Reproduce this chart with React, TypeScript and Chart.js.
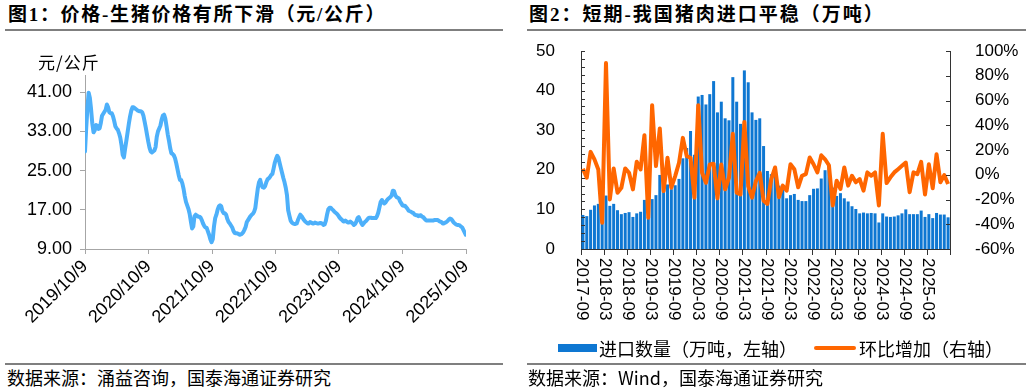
import React, { useEffect, useRef } from "react";
import { Chart, registerables } from "chart.js";

Chart.register(...registerables);

// ---------------- Figure 1: live hog price (weekly, 元/公斤) ----------------
const PRICE_START = "2019-10-09";
const priceWeekly: number[] = [
  28.9, 33.7, 37.8, 40.9, 39.8, 37.5, 34.6, 32.8, 33.2, 34.3,
  34.2, 33.5, 33.6, 34.7, 36.2, 36.6, 37.0, 37.4, 38.5, 37.9,
  36.9, 36.7, 36.7, 36.1, 35.1, 34.0, 33.6, 33.3, 32.6, 31.7,
  30.2, 28.2, 27.7, 29.5, 31.1, 32.8, 34.5, 36.0, 37.2, 37.9,
  37.9, 37.7, 37.5, 37.3, 37.2, 37.1, 37.1, 36.9, 36.2, 35.0,
  33.7, 32.3, 30.9, 29.7, 28.9, 28.7, 28.9, 29.1, 29.8, 31.9,
  33.0, 33.6, 34.2, 35.4, 36.2, 36.4, 35.6, 34.1, 32.4, 31.1,
  29.6, 28.5, 28.4, 28.1, 27.5, 26.5, 25.3, 24.1, 23.1, 23.1,
  22.4, 21.3, 19.8, 18.6, 17.9, 17.2, 16.2, 14.6, 13.2, 13.6,
  15.7, 16.0, 15.8, 15.6, 15.6, 15.4, 14.9, 14.2, 13.7, 13.4,
  13.3, 12.6, 11.9, 11.0, 10.4, 11.0, 13.6, 15.3, 16.0, 17.0,
  17.7, 17.9, 17.7, 16.7, 16.3, 16.3, 16.0, 15.1, 14.5, 14.2,
  13.8, 13.4, 12.7, 12.3, 12.2, 12.2, 12.1, 11.9, 12.0, 12.1,
  12.4, 12.9, 13.5, 14.5, 14.9, 15.3, 15.7, 16.0, 16.2, 16.6,
  17.4, 19.4, 21.3, 22.6, 23.1, 22.1, 21.6, 21.5, 21.8, 22.6,
  23.2, 23.4, 23.7, 24.1, 24.3, 25.4, 26.6, 27.4, 28.0, 27.6,
  26.5, 25.5, 24.5, 23.5, 22.6, 21.5, 20.0, 16.9, 15.8, 14.8,
  14.4, 14.2, 14.1, 14.1, 14.2, 14.9, 15.5, 16.0, 15.7, 15.3,
  14.9, 14.6, 14.4, 14.2, 14.2, 14.5, 14.4, 14.2, 14.2, 14.4,
  14.3, 14.2, 14.2, 14.3, 14.3, 14.2, 13.9, 14.0, 14.8, 16.1,
  17.1, 17.4, 17.4, 17.1, 16.9, 16.6, 16.4, 16.2, 15.9, 15.5,
  15.2, 15.0, 14.7, 14.6, 14.8, 14.6, 14.4, 14.4, 14.6, 14.4,
  14.2, 13.9, 14.1, 14.6, 15.3, 15.5, 14.9, 14.3, 13.9, 14.2,
  14.5, 14.7, 15.0, 15.3, 15.4, 15.4, 15.3, 15.3, 15.3, 15.3,
  15.7, 16.4, 17.5, 18.6, 19.0, 18.5, 18.3, 18.5, 18.9, 19.2,
  19.4, 19.6, 19.9, 20.9, 20.8, 20.0, 19.6, 19.5, 19.3, 18.7,
  18.3, 17.9, 17.8, 17.8, 17.5, 17.2, 16.8, 16.7, 16.6, 16.4,
  16.3, 16.0, 15.9, 15.9, 15.7, 15.8, 15.9, 15.6, 15.5, 15.2,
  14.9, 14.8, 14.8, 14.8, 14.8, 14.8, 14.8, 14.9, 14.9, 14.9,
  14.9, 14.7, 14.6, 14.5, 14.2, 14.2, 14.4, 14.5, 14.7, 15.0,
  15.2, 15.1, 14.8, 14.4, 14.2, 14.0, 13.9, 13.9, 13.8, 13.6,
  13.4, 12.9, 12.4, 11.9,
];
const priceTickLabels = [
  "2019/10/9", "2020/10/9", "2021/10/9", "2022/10/9",
  "2023/10/9", "2024/10/9", "2025/10/9",
];
const priceYTicks = [9, 17, 25, 33, 41];
const PRICE_Y_MIN = 9;
const PRICE_Y_MAX = 44.5;

// ---------------- Figure 2: pork imports (monthly) ----------------
const IMPORT_START_YEAR = 2017;
const IMPORT_START_MONTH = 9;
const importVolume: number[] = [
  8.6, 8.3, 9.9, 11.0, 11.4, 7.0, 13.5, 10.9, 11.4, 9.8,
  8.8, 9.1, 9.3, 8.1, 9.0, 9.4, 12.4, 8.1, 12.6, 13.6,
  18.7, 15.5, 16.3, 15.1, 16.1, 17.7, 22.9, 25.5, 29.8, 23.8,
  38.5, 38.9, 36.5, 39.1, 42.4, 34.5, 37.2, 33.0, 32.5, 43.4,
  37.2, 31.6, 45.1, 42.1, 34.5, 32.6, 33.0, 26.0, 19.7, 18.9,
  19.8, 16.0, 15.2, 12.8, 13.6, 13.9, 12.4, 12.1, 12.1, 13.6,
  15.2, 15.3, 17.8, 19.9, 21.0, 15.5, 13.4, 14.1, 12.8, 12.0,
  10.8, 10.1, 9.0, 9.2, 9.0, 9.1, 9.0, 6.7, 9.0, 8.2,
  8.1, 8.2, 8.5, 9.0, 10.0, 8.8, 8.8, 8.8, 9.7, 8.1,
  8.8, 7.8, 9.1, 8.7, 8.7, 8.0,
];
const importMoM: number[] = [
  4.8, -2.4, 18.5, 12.4, 4.3, -38.7, 90.3, -19.9, 5.1, -14.5,
  -10.5, 5.1, 1.6, -11.8, 10.5, 4.3, 32.0, -34.7, 56.2, 7.0,
  37.4, -13.2, 13.7, -10.5, -1.1, 9.7, 29.8, 15.1, 13.7, -18.5,
  56.2, 1.6, -6.5, 8.3, 8.9, -19.1, 8.3, -11.8, -2.4, 33.1,
  -14.5, -15.9, 42.7, -9.1, -18.5, -5.1, 1.6, -21.0, -23.5, -3.5,
  5.9, -18.1, -8.8, -12.8, 8.5, 4.5, -10.1, -0.8, 0.5, 13.9,
  8.5, 1.9, 15.7, 12.5, 7.7, -24.8, -4.8, -11.5, 5.9, -8.8,
  -0.8, -6.1, -3.5, -12.8, 1.9, -0.8, 1.9, -24.8, 33.1, -6.7,
  -2.1, 1.9, 4.5, 7.2, 9.9, -14.1, 1.9, 0.5, 10.4, -16.0,
  8.5, -10.9, 16.5, -6.1, -0.3, -7.5,
];
const importLabelEvery = 6;
const importLegend = ["进口数量（万吨，左轴）", "环比增加（右轴）"];

const titles = [
  "图1：价格-生猪价格有所下滑（元/公斤）",
  "图2：短期-我国猪肉进口平稳（万吨）",
];
const sources = [
  "数据来源：涌益咨询，国泰海通证券研究",
  "数据来源：Wind，国泰海通证券研究",
];

const SANS = '"Liberation Sans", Arial, "Noto Sans CJK SC", sans-serif';
const CJK = '"Noto Sans CJK SC", "Liberation Serif", serif';
const TITLE_FONT = '"Liberation Serif", "Noto Sans CJK SC", serif';

const BLUE_LINE = "#4DB0FA";
const BAR_BLUE = "#0E77D2";
const ORANGE = "#FF6600";

function dayOffset(s: string): number {
  const [y, m, d] = s.split(/[-/]/).map(Number);
  const base = Date.UTC(2019, 9, 9);
  return Math.round((Date.UTC(y, m - 1, d) - base) / 86400000);
}

function PriceChart() {
  const ref = useRef<HTMLCanvasElement>(null);
  useEffect(() => {
    const start = dayOffset(PRICE_START);
    const points = priceWeekly.map((v, i) => ({ x: start + 7 * i, y: v }));
    const tickDays = priceTickLabels.map(dayOffset);
    const axisGray = "#A6A6A6";
    const chart = new Chart(ref.current as HTMLCanvasElement, {
      type: "line",
      data: {
        datasets: [
          {
            data: points,
            borderColor: BLUE_LINE,
            borderWidth: 4,
            pointRadius: 0,
            tension: 0,
            borderJoinStyle: "round",
            borderCapStyle: "round",
          },
        ],
      },
      options: {
        animation: false,
        responsive: false,
        maintainAspectRatio: false,
        layout: { padding: { top: 75, right: 50, left: 0, bottom: 0 } },
        plugins: { legend: { display: false }, tooltip: { enabled: false } },
        scales: {
          x: {
            type: "linear",
            min: tickDays[0],
            max: tickDays[tickDays.length - 1],
            afterBuildTicks: (s: any) => {
              s.ticks = tickDays.map((v) => ({ value: v }));
            },
            afterFit: (s: any) => {
              s.height = 96;
            },
            ticks: {
              callback: (_v: any, i: number) => priceTickLabels[i],
              minRotation: 45,
              maxRotation: 45,
              autoSkip: false,
              color: "#000",
              font: { family: SANS, size: 18 },
              padding: 2,
            },
            grid: {
              display: true,
              drawOnChartArea: false,
              drawTicks: true,
              tickLength: 5,
              color: axisGray,
            },
            border: { display: true, color: axisGray, width: 1 },
          },
          y: {
            min: PRICE_Y_MIN,
            max: PRICE_Y_MAX,
            afterBuildTicks: (s: any) => {
              s.ticks = priceYTicks.map((v) => ({ value: v }));
            },
            afterFit: (s: any) => {
              s.width = 85;
            },
            ticks: {
              callback: (v: any) => Number(v).toFixed(2),
              color: "#000",
              font: { family: SANS, size: 18 },
              padding: 8,
            },
            grid: {
              display: true,
              drawOnChartArea: false,
              drawTicks: true,
              tickLength: 5,
              color: axisGray,
            },
            border: { display: true, color: axisGray, width: 1 },
          },
        },
      },
    });
    return () => chart.destroy();
  }, []);
  return (
    <canvas
      ref={ref}
      width={516}
      height={345}
      style={{ position: "absolute", left: 0, top: 0, width: 516, height: 345 }}
    />
  );
}

function ImportChart() {
  const ref = useRef<HTMLCanvasElement>(null);
  useEffect(() => {
    const months: string[] = importVolume.map((_, i) => {
      const t = IMPORT_START_YEAR * 12 + (IMPORT_START_MONTH - 1) + i;
      const y = Math.floor(t / 12);
      const m = (t % 12) + 1;
      return `${y}-${m < 10 ? "0" + m : m}`;
    });
    const axisDark = "#333333";
    const decor = {
      id: "importDecor",
      afterDraw(chart: any) {
        const { ctx, chartArea } = chart;
        const x = chart.scales.x;
        const yl = chart.scales.y;
        const yr = chart.scales.y1;
        ctx.save();
        ctx.strokeStyle = axisDark;
        ctx.lineWidth = 1;
        ctx.beginPath();
        for (let v = 0; v <= 50; v += 2) {
          const py = Math.round(yl.getPixelForValue(v)) + 0.5;
          ctx.moveTo(chartArea.left, py);
          ctx.lineTo(chartArea.left + 4, py);
        }
        for (let v = -60; v <= 100; v += 20) {
          const py = Math.round(yr.getPixelForValue(v)) + 0.5;
          ctx.moveTo(chartArea.right - 4, py);
          ctx.lineTo(chartArea.right, py);
        }
        for (let i = 0; i <= months.length; i += importLabelEvery) {
          const px = Math.round(x.getPixelForValue(i - 0.5)) + 0.5;
          ctx.moveTo(px, chartArea.bottom);
          ctx.lineTo(px, chartArea.bottom + 6);
        }
        ctx.stroke();
        ctx.fillStyle = "#000";
        ctx.font = `17px ${SANS}`;
        ctx.textAlign = "left";
        ctx.textBaseline = "middle";
        for (let i = 0; i < months.length; i += importLabelEvery) {
          const px = x.getPixelForValue(i) - 1;
          ctx.save();
          ctx.translate(px, chartArea.bottom + 9);
          ctx.rotate(Math.PI / 2);
          ctx.fillText(months[i], 0, 0);
          ctx.restore();
        }
        ctx.restore();
      },
    };
    const chart = new Chart(ref.current as HTMLCanvasElement, {
      type: "bar",
      data: {
        labels: months,
        datasets: [
          {
            type: "line",
            label: importLegend[1],
            data: importMoM,
            yAxisID: "y1",
            borderColor: ORANGE,
            borderWidth: 4,
            pointRadius: 0,
            tension: 0,
            order: 1,
            borderJoinStyle: "round",
          } as any,
          {
            type: "bar",
            label: importLegend[0],
            data: importVolume,
            yAxisID: "y",
            backgroundColor: BAR_BLUE,
            barPercentage: 0.78,
            categoryPercentage: 1,
            order: 2,
          },
        ],
      },
      options: {
        animation: false,
        responsive: false,
        maintainAspectRatio: false,
        layout: { padding: { top: 51, right: 0, left: 0, bottom: 0 } },
        plugins: { legend: { display: false }, tooltip: { enabled: false } },
        scales: {
          x: {
            type: "category",
            offset: true,
            afterFit: (s: any) => {
              s.height = 96;
            },
            ticks: { display: false },
            grid: { display: false },
            border: { display: true, color: axisDark, width: 1 },
          },
          y: {
            position: "left",
            min: 0,
            max: 50,
            afterFit: (s: any) => {
              s.width = 65;
            },
            ticks: {
              stepSize: 10,
              color: "#000",
              font: { family: SANS, size: 17 },
              padding: 18,
            },
            grid: { display: false },
            border: { display: true, color: axisDark, width: 1 },
          },
          y1: {
            position: "right",
            min: -60,
            max: 100,
            afterFit: (s: any) => {
              s.width = 82;
            },
            ticks: {
              stepSize: 20,
              callback: (v: any) => `${v}%`,
              color: "#000",
              font: { family: SANS, size: 17 },
              padding: 17,
            },
            grid: { display: false },
            border: { display: true, color: axisDark, width: 1 },
          },
        },
      },
      plugins: [decor],
    });
    return () => chart.destroy();
  }, []);
  return (
    <canvas
      ref={ref}
      width={516}
      height={345}
      style={{ position: "absolute", left: 516, top: 0, width: 516, height: 345 }}
    />
  );
}

const abs = (o: React.CSSProperties): React.CSSProperties => ({
  position: "absolute",
  whiteSpace: "nowrap",
  margin: 0,
  ...o,
});

export default function App() {
  return (
    <div
      style={{
        position: "absolute",
        left: 0,
        top: 0,
        width: 1032,
        height: 390,
        background: "#fff",
        overflow: "hidden",
      }}
    >
      <div
        style={abs({
          left: 8,
          top: 4,
          font: `bold 19px/22px ${TITLE_FONT}`,
          letterSpacing: "1.7px",
          color: "#000",
        })}
      >
        {titles[0]}
      </div>
      <div
        style={abs({
          left: 529,
          top: 4,
          font: `bold 19px/22px ${TITLE_FONT}`,
          letterSpacing: "2px",
          color: "#000",
        })}
      >
        {titles[1]}
      </div>
      <div style={abs({ left: 5, top: 29, width: 498, height: 2, background: "#7F7F7F" })} />
      <div style={abs({ left: 527, top: 29, width: 499, height: 2, background: "#7F7F7F" })} />

      <PriceChart />
      <ImportChart />

      <div style={abs({ left: 38, top: 52, font: `17px/20px ${CJK}`, letterSpacing: "1px", color: "#000" })}>
        元/公斤
      </div>

      <div style={abs({ left: 558, top: 344, width: 39, height: 8, background: BAR_BLUE })} />
      <div style={abs({ left: 599, top: 338, font: `18px/20px ${CJK}`, color: "#000" })}>
        {importLegend[0]}
      </div>
      <div style={abs({ left: 814, top: 346, width: 42, height: 4, background: ORANGE, borderRadius: 2 })} />
      <div style={abs({ left: 859, top: 338, font: `18px/20px ${CJK}`, color: "#000" })}>
        {importLegend[1]}
      </div>

      <div style={abs({ left: 5, top: 363, width: 498, height: 1.5, background: "#7F7F7F" })} />
      <div style={abs({ left: 527, top: 363, width: 499, height: 1.5, background: "#7F7F7F" })} />
      <div style={abs({ left: 7, top: 367, font: `18px/20px ${CJK}`, color: "#000" })}>{sources[0]}</div>
      <div style={abs({ left: 528, top: 367, font: `18px/20px ${CJK}`, color: "#000" })}>{sources[1]}</div>
    </div>
  );
}
